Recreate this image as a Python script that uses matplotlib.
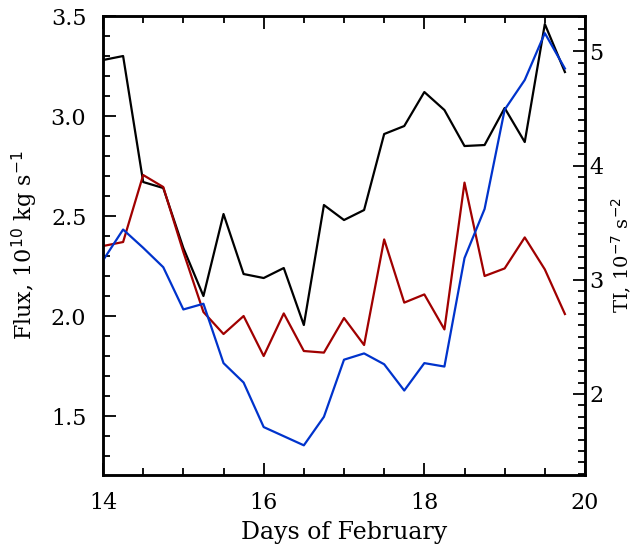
import matplotlib
matplotlib.use("Agg")
import matplotlib.pyplot as plt
from matplotlib.ticker import MultipleLocator

plt.rcParams['font.family'] = ['DejaVu Serif']

# days of February, every 6 hours
days = [14 + 0.25 * i for i in range(24)]

# flux series (left axis, 10^10 kg/s)
flux_black = [3.28, 3.30, 2.67, 2.64, 2.34, 2.10, 2.51, 2.21, 2.19, 2.24, 1.955, 2.555,
              2.48, 2.53, 2.91, 2.95, 3.12, 3.03, 2.85, 2.855, 3.04, 2.87, 3.46, 3.22]
flux_red = [2.35, 2.37, 2.705, 2.645, 2.32, 2.02, 1.91, 2.0, 1.80, 2.013, 1.825, 1.817,
            1.99, 1.855, 2.383, 2.067, 2.108, 1.933, 2.667, 2.20, 2.238, 2.393, 2.233, 2.01]

# TI series (right axis, 10^-7 s^-2)
ti_blue = [3.17, 3.44, 3.28, 3.11, 2.74, 2.79, 2.27, 2.10, 1.71, 1.63, 1.55, 1.80,
           2.30, 2.355, 2.26, 2.03, 2.27, 2.24, 3.19, 3.62, 4.49, 4.75, 5.16, 4.85]

fig = plt.figure(figsize=(6.34, 5.47), dpi=100)
ax = fig.add_axes([0.1625, 0.1316, 0.7602, 0.8391])
ax2 = ax.twinx()

ax.plot(days, flux_black, color='black', lw=1.6)
ax.plot(days, flux_red, color='#a00000', lw=1.6)
ax2.plot(days, ti_blue, color='#0033cc', lw=1.6)

ax.set_xlim(14, 20)
ax.set_ylim(1.205, 3.5)
ax2.set_ylim(1.29, 5.31)

ax.xaxis.set_major_locator(MultipleLocator(2))
ax.xaxis.set_minor_locator(MultipleLocator(0.5))
ax.yaxis.set_major_locator(MultipleLocator(0.5))
ax.yaxis.set_minor_locator(MultipleLocator(0.1))
ax.yaxis.set_major_formatter(plt.FormatStrFormatter('%.1f'))
ax2.yaxis.set_major_locator(MultipleLocator(1))
ax2.yaxis.set_minor_locator(MultipleLocator(0.1))

for a in (ax, ax2):
    for s in a.spines.values():
        s.set_linewidth(1.8)
    a.tick_params(which='both', direction='in', labelsize=16, width=1.3)
    a.tick_params(which='major', length=9)
    a.tick_params(which='minor', length=5)
ax.tick_params(which='both', top=True, right=False)
ax.tick_params(axis='x', pad=12)
ax.tick_params(axis='y', pad=12)
ax2.tick_params(which='both', right=True, pad=3)

ax.set_xlabel('Days of February', fontsize=17, labelpad=5)
ax.set_ylabel('Flux, 10$^{10}$ kg s$^{-1}$', fontsize=16, labelpad=8)
ax2.set_ylabel('TI, 10$^{-7}$ s$^{-2}$', fontsize=14, rotation=90, va='center')
ax2.yaxis.set_label_coords(1.076, 0.48)

fig.savefig('out.png', dpi=100)
